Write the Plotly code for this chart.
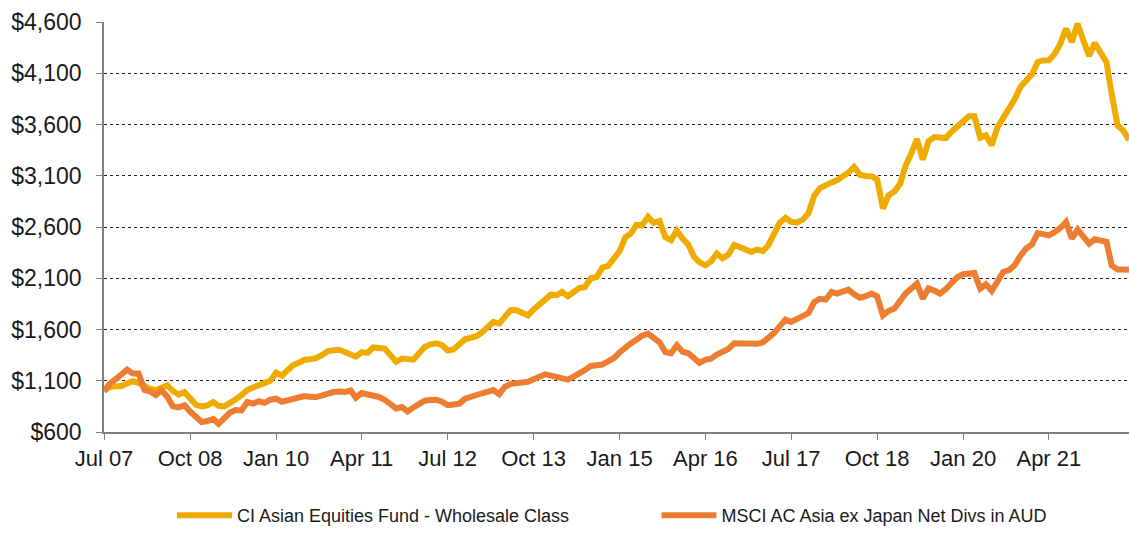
import pandas as pd
import plotly.graph_objects as go

# Monthly month-start dates, Jul 2007 .. Jun 2022
months = pd.date_range("2007-07-01", periods=180, freq="MS")

fund_name = "CI Asian Equities Fund - Wholesale Class"
index_name = "MSCI AC Asia ex Japan Net Divs in AUD"

fund_values = [
    1000, 1040, 1046, 1046, 1075, 1095, 1080, 1040, 1020, 1007,
    1030, 1056, 1000, 965, 990, 925, 865, 850, 860, 893,
    855, 850, 893, 920, 960, 1010, 1035, 1060, 1075, 1100,
    1180, 1150, 1200, 1251, 1275, 1305, 1310, 1320, 1350, 1388,
    1398, 1402, 1380, 1360, 1335, 1380, 1372, 1425, 1420, 1414,
    1350, 1285, 1316, 1310, 1306, 1370, 1430, 1455, 1466, 1448,
    1395, 1405, 1450, 1505, 1520, 1534, 1575, 1620, 1672, 1660,
    1720, 1790, 1788, 1760, 1738, 1795, 1850, 1900, 1940, 1934,
    1966, 1924, 1965, 2005, 2015, 2100, 2112, 2204, 2220, 2290,
    2365, 2500, 2535, 2620, 2617, 2700, 2640, 2659, 2500, 2470,
    2565, 2490, 2430, 2310, 2255, 2226, 2265, 2340, 2295, 2330,
    2425, 2405, 2385, 2356, 2380, 2366, 2420, 2530, 2640, 2690,
    2650, 2645, 2672, 2735, 2909, 2980, 3015, 3035, 3055, 3085,
    3130, 3185, 3110, 3098, 3095, 3065, 2779, 2909, 2945, 3023,
    3195, 3320, 3458, 3257, 3435, 3478, 3470, 3468, 3530, 3580,
    3615, 3680, 3680, 3472, 3495, 3397, 3570, 3660, 3740, 3845,
    3966, 4020, 4090, 4210, 4225, 4226, 4285, 4389, 4535, 4405,
    4584, 4421, 4270, 4395, 4307, 4210, 3900, 3592, 3543, 3446,
]

index_values = [
    1000, 1072, 1115, 1160, 1209, 1170, 1170, 1010, 997, 960,
    1007, 945, 850, 840, 860, 800, 740, 698, 707, 728,
    680, 730, 790, 815, 811, 893, 877, 900, 885, 915,
    925, 895, 905, 930, 940, 950, 945, 941, 955, 975,
    990, 995, 990, 1005, 935, 980, 968, 955, 942, 915,
    870, 830, 844, 800, 840, 880, 905, 912, 915, 895,
    862, 868, 877, 925, 938, 955, 978, 995, 1010, 970,
    1040, 1070, 1080, 1094, 1090, 1115, 1140, 1163, 1150, 1140,
    1125, 1111, 1140, 1165, 1205, 1244, 1250, 1258, 1290, 1320,
    1375, 1430, 1465, 1500, 1540, 1560, 1520, 1475, 1380, 1368,
    1446, 1385, 1368, 1320, 1275, 1305, 1316, 1355, 1385, 1410,
    1465, 1462, 1458, 1456, 1460, 1475, 1510, 1565, 1630, 1697,
    1673, 1700, 1722, 1760, 1868, 1900, 1892, 1966, 1950, 1965,
    1989, 1943, 1910, 1925, 1950, 1924, 1738, 1781, 1804, 1880,
    1950, 2000, 2048, 1901, 2000, 1980, 1950, 1995, 2050, 2110,
    2140, 2145, 2151, 1999, 2041, 1976, 2070, 2161, 2180, 2226,
    2320, 2390, 2430, 2540, 2530, 2519, 2550, 2590, 2649, 2487,
    2575, 2500, 2438, 2480, 2465, 2455, 2226, 2185, 2185, 2184,
]

y_tick_values = [600, 1100, 1600, 2100, 2600, 3100, 3600, 4100, 4600]
y_tick_labels = ["$600", "$1,100", "$1,600", "$2,100", "$2,600",
                 "$3,100", "$3,600", "$4,100", "$4,600"]

GOLD = "#F0AB00"
ORANGE = "#ED7D31"
FONT = "Liberation Sans, Arial, sans-serif"
TEXT = "#1a1a1a"

fig = go.Figure()
fig.add_trace(go.Scatter(x=months, y=fund_values, mode="lines", name=fund_name,
                         line=dict(color=GOLD, width=6), legend="legend"))
fig.add_trace(go.Scatter(x=months, y=index_values, mode="lines", name=index_name,
                         line=dict(color=ORANGE, width=6), legend="legend2"))

legend_common = dict(orientation="h", xanchor="left",
                     yref="container", y=0.0, yanchor="bottom",
                     font=dict(size=18, family=FONT, color=TEXT),
                     itemwidth=55, bgcolor="rgba(0,0,0,0)")

fig.update_layout(
    width=1129, height=534,
    margin=dict(l=104, r=0, t=22, b=102),
    paper_bgcolor="white", plot_bgcolor="white",
    font=dict(family=FONT, color=TEXT),
    showlegend=True,
    legend=dict(x=0.0663, **legend_common),
    legend2=dict(x=0.539, **legend_common),
    hovermode=False,
)
fig.update_xaxes(
    type="date", range=[months[0], months[-1]],
    tick0="2007-07-01", dtick="M15", tickformat="%b %y",
    ticks="outside", ticklen=6, tickcolor="#808080", tickwidth=1,
    showline=True, linecolor="#808080", linewidth=1.5,
    showgrid=False, zeroline=False,
    tickfont=dict(size=22, family=FONT, color=TEXT),
)
fig.update_yaxes(
    range=[600, 4600], tickmode="array", tickvals=y_tick_values, ticktext=y_tick_labels,
    ticks="outside", ticklen=6, tickcolor="#808080", tickwidth=1,
    showline=True, linecolor="#808080", linewidth=1.5,
    showgrid=True, gridcolor="#222222", griddash="dot", gridwidth=1,
    zeroline=False, ticklabelstandoff=10,
    tickfont=dict(size=23, family=FONT, color=TEXT),
)

fig.write_html("out.html")
